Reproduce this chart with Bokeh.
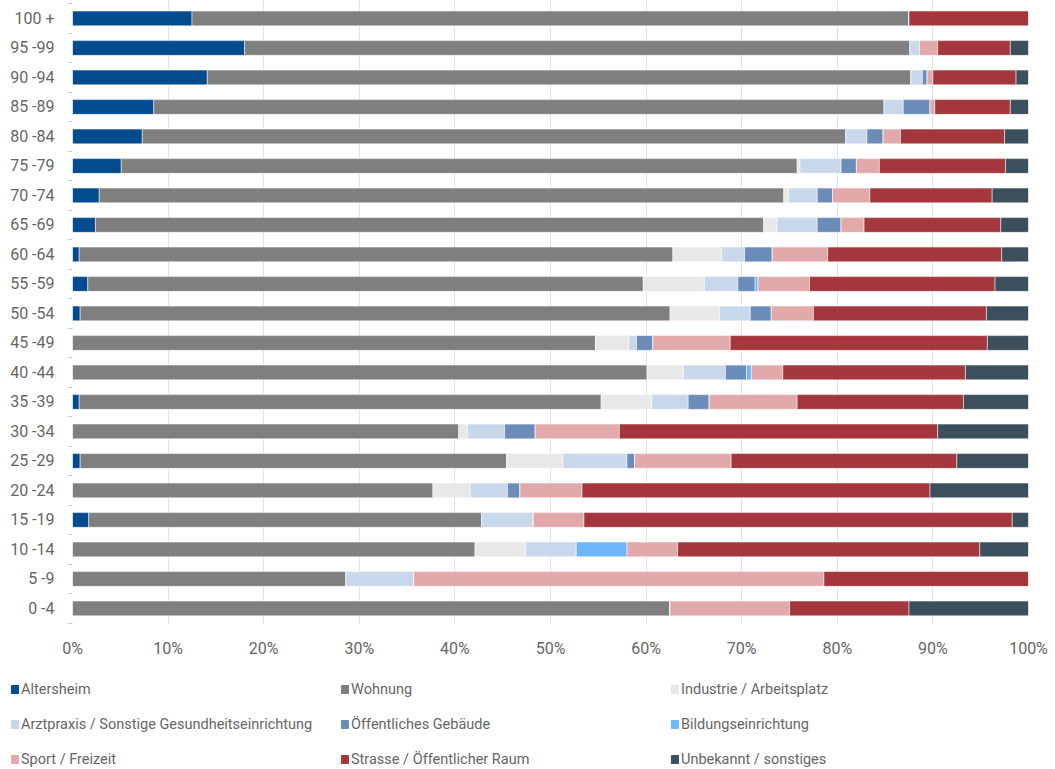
from bokeh.plotting import figure
from bokeh.layouts import column
from bokeh.models import ColumnDataSource, Range1d, FixedTicker, Legend, LegendItem, PrintfTickFormatter
from bokeh.embed import file_html
from bokeh.resources import INLINE

age_groups = ["0 -4", "5 -9", "10 -14", "15 -19", "20 -24", "25 -29", "30 -34", "35 -39",
              "40 -44", "45 -49", "50 -54", "55 -59", "60 -64", "65 -69", "70 -74", "75 -79",
              "80 -84", "85 -89", "90 -94", "95 -99", "100 +"]

series_names = ["Altersheim", "Wohnung", "Industrie / Arbeitsplatz",
                "Arztpraxis / Sonstige Gesundheitseinrichtung", "Öffentliches Gebäude",
                "Bildungseinrichtung", "Sport / Freizeit", "Strasse / Öffentlicher Raum",
                "Unbekannt / sonstiges"]

altersheim = [0, 0, 0, 1.7, 0, 0.8, 0, 0.7, 0, 0, 0.8, 1.6, 0.7, 2.4, 2.8, 5.1, 7.3, 8.5, 14.1, 18.0, 12.5]
wohnung = [62.5, 28.6, 42.1, 41.1, 37.7, 44.6, 40.4, 54.6, 60.1, 54.7, 61.7, 58.1, 62.1, 69.9, 71.6, 70.7, 73.6, 76.4, 73.6, 69.6, 75.0]
industrie = [0, 0, 5.3, 0, 3.9, 5.9, 0.9, 5.3, 3.8, 3.5, 5.2, 6.4, 5.1, 1.4, 0.5, 0.3, 0, 0, 0, 0, 0]
arztpraxis = [0, 7.1, 5.3, 5.4, 3.9, 6.7, 3.9, 3.8, 4.4, 0.8, 3.2, 3.5, 2.4, 4.2, 3.0, 4.3, 2.2, 2.0, 1.2, 1.0, 0]
oeff_gebaeude = [0, 0, 0, 0, 1.3, 0.8, 3.2, 2.2, 2.2, 1.7, 2.2, 1.8, 2.9, 2.5, 1.6, 1.6, 1.7, 2.8, 0.5, 0, 0]
bildung = [0, 0, 5.3, 0, 0, 0, 0, 0, 0.5, 0, 0, 0.3, 0, 0, 0, 0, 0, 0, 0, 0, 0]
sport = [12.5, 42.9, 5.3, 5.3, 6.5, 10.1, 8.8, 9.2, 3.3, 8.1, 4.4, 5.4, 5.8, 2.4, 3.9, 2.4, 1.8, 0.5, 0.6, 1.9, 0]
strasse = [12.5, 21.4, 31.6, 44.8, 36.4, 23.6, 33.3, 17.4, 19.1, 26.9, 18.1, 19.4, 18.2, 14.3, 12.8, 13.2, 10.9, 7.9, 8.7, 7.6, 12.5]
unbekannt = [12.5, 0, 5.2, 1.7, 10.3, 7.5, 9.5, 6.8, 6.6, 4.3, 4.4, 3.5, 2.8, 2.9, 3.8, 2.4, 2.5, 1.9, 1.3, 1.9, 0]

x_ticks = [0, 10, 20, 30, 40, 50, 60, 70, 80, 90, 100]

colors = ["#034b8f", "#7f7f7f", "#e8e8e8", "#c8d7ea", "#6b8cb8", "#6cb6fd", "#e2a9ab", "#a3373d", "#3b4f5c"]

keys = ["s%d" % i for i in range(len(series_names))]
ypos = list(range(len(age_groups)))
data = {"y": ypos}
for k, vals in zip(keys, [altersheim, wohnung, industrie, arztpraxis, oeff_gebaeude,
                          bildung, sport, strasse, unbekannt]):
    data[k] = vals
source = ColumnDataSource(data)

FONT = "Roboto"
TXT = "#666666"

p = figure(width=1055, height=660, output_backend="svg", toolbar_location=None,
           x_range=Range1d(0, 100), y_range=Range1d(-0.51, 20.61),
           min_border_left=72, min_border_right=27, min_border_top=0, min_border_bottom=30)
p.outline_line_color = None
p.background_fill_color = "white"
p.frame_align = False

renderers = p.hbar_stack(keys, y="y", height=0.5, color=colors, source=source,
                         line_color="white", line_width=0.5)

# x axis
p.xaxis.ticker = FixedTicker(ticks=x_ticks)
p.xaxis.formatter = PrintfTickFormatter(format="%d%%")
p.xaxis.axis_line_color = None
p.xaxis.major_tick_line_color = None
p.xaxis.minor_tick_line_color = None
p.xaxis.major_label_text_font = FONT
p.xaxis.major_label_text_font_size = "16px"
p.xaxis.major_label_text_color = TXT
p.xaxis.major_label_standoff = 9

# y axis
bounds = [i - 0.5 for i in range(len(age_groups) + 1)]
p.yaxis.ticker = FixedTicker(ticks=ypos, minor_ticks=bounds)
p.yaxis.major_label_overrides = {i: lab for i, lab in enumerate(age_groups)}
p.yaxis.axis_line_color = None
p.yaxis.major_tick_line_color = None
p.yaxis.minor_tick_line_color = "#cccccc"
p.yaxis.minor_tick_out = 5
p.yaxis.minor_tick_in = 0
p.yaxis.major_label_text_font = FONT
p.yaxis.major_label_text_font_size = "16px"
p.yaxis.major_label_text_color = TXT
p.yaxis.major_label_standoff = 12

p.xgrid.ticker = FixedTicker(ticks=x_ticks)
p.xgrid.grid_line_color = "#e3e3e3"
p.xgrid.grid_line_width = 1
p.ygrid.grid_line_color = None

# legend figure (legend only; dummy glyphs kept outside its visible range)
p2 = figure(width=1055, height=109, output_backend="svg", toolbar_location=None,
            x_range=Range1d(0, 1), y_range=Range1d(0, 1),
            x_axis_location=None, y_axis_location=None,
            min_border_left=0, min_border_right=0, min_border_top=0, min_border_bottom=0)
p2.grid.visible = False
p2.outline_line_color = None
p2.frame_align = False
dummy = [p2.hbar(y=[10], left=[10], right=[11], height=0.5, color=c) for c in colors]
items = [LegendItem(label=name, renderers=[r]) for name, r in zip(series_names, dummy)]
legend = Legend(items=items, location=(10, 0), orientation="horizontal", ncols=3,
                glyph_width=9, glyph_height=10, label_standoff=2, label_width=304,
                label_height=20, spacing=15, padding=0, margin=0,
                border_line_color=None, background_fill_alpha=0,
                label_text_font=FONT, label_text_font_size="14.5px", label_text_color=TXT)
p2.add_layout(legend, "center")

open("out.html", "w").write(file_html(column(p, p2, spacing=0), INLINE))
